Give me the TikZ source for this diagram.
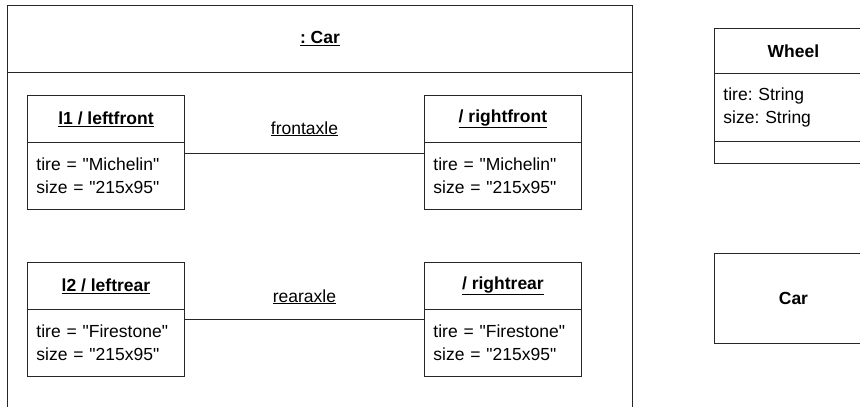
\documentclass[tikz,border=0pt]{standalone}
\usepackage{fontspec}
\setmainfont{Liberation Sans}[Ligatures=TeXOff]
\newcommand\dq{\char"22 }
\frenchspacing
\begin{document}
\begin{tikzpicture}[x=1pt,y=-1pt,
  every node/.style={font=\fontsize{17.5}{23.5}\selectfont},
  ln/.style={line width=0.9pt, draw=black!85},
  hdr/.style={ln, draw, anchor=north west, inner sep=0pt, minimum width=157pt, minimum height=47pt, font=\fontsize{17.5}{23.5}\selectfont\bfseries},
  bodybox/.style={ln, draw, anchor=north west, inner ysep=0pt, inner xsep=9pt, text width=139pt, minimum width=157pt, minimum height=67pt, align=left},
  lbl/.style={anchor=base, inner sep=0pt}
]
\useasboundingbox (0,0) rectangle (860,407);
\clip (0,0) rectangle (860,407);

% outer composite object
\node[ln, draw, anchor=north west, inner sep=0pt, minimum width=625pt, minimum height=440pt] (frame) at (7,5) {};
\node[ln, draw, anchor=north west, inner sep=0pt, minimum width=625pt, minimum height=67pt, font=\fontsize{17.5}{23.5}\selectfont\bfseries] (carhdr) at (7,5) {\underline{: Car}};

% front wheels
\node[hdr] (lfh) at (27,95) {\underline{l1 / leftfront}};
\node[bodybox] (lfb) at (27,142) {tire = \dq Michelin\dq\\size = \dq 215x95\dq};
\node[hdr] (rfh) at (424,95) {\underline{/ rightfront}};
\node[bodybox] (rfb) at (424,142) {tire = \dq Michelin\dq\\size = \dq 215x95\dq};

% rear wheels
\node[hdr] (lrh) at (27,262) {\underline{l2 / leftrear}};
\node[bodybox] (lrb) at (27,309) {tire = \dq Firestone\dq\\size = \dq 215x95\dq};
\node[hdr] (rrh) at (424,262) {\underline{/ rightrear}};
\node[bodybox] (rrb) at (424,309) {tire = \dq Firestone\dq\\size = \dq 215x95\dq};

% links
\draw[ln] ([yshift=-11pt]lfb.north east) -- ([yshift=-11pt]rfb.north west)
  node[lbl, midway, yshift=19pt] {\underline{frontaxle}};
\draw[ln] ([yshift=-10pt]lrb.north east) -- ([yshift=-10pt]rrb.north west)
  node[lbl, midway, yshift=17pt] {\underline{rearaxle}};

% Wheel class
\node[ln, draw, anchor=north west, inner sep=0pt, minimum width=158pt, minimum height=45pt, font=\fontsize{17.5}{23.5}\selectfont\bfseries] (wh) at (714,28) {Wheel};
\node[ln, draw, anchor=north west, inner ysep=0pt, inner xsep=9pt, text width=140pt, minimum width=158pt, minimum height=68pt, align=left] (wa) at (714,73) {tire: String\\size: String};
\node[ln, draw, anchor=north west, inner sep=0pt, minimum width=158pt, minimum height=22pt] (wo) at (714,141) {};

% Car class
\node[ln, draw, anchor=north west, inner sep=0pt, minimum width=158pt, minimum height=90pt, font=\fontsize{17.5}{23.5}\selectfont\bfseries] (carcls) at (714,253) {Car};
\end{tikzpicture}
\end{document}
